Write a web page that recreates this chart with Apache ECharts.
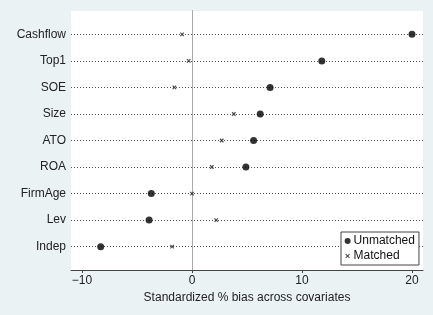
<!DOCTYPE html>
<html>
<head>
    <meta charset="UTF-8">
    <title>Standardized bias</title>
    <script src="https://cdn.jsdelivr.net/npm/echarts@6/dist/echarts.min.js"></script>
    <style>
        html, body { margin: 0; padding: 0; background: #eaf2f3; }
        #main { width: 433px; height: 315px; }
    </style>
</head>
<body>
    <div id="main"></div>
    <script>
        // covariates, top to bottom
        var covariates = ['Cashflow', 'Top1', 'SOE', 'Size', 'ATO', 'ROA', 'FirmAge', 'Lev', 'Indep'];
        // % bias before matching
        var unmatched = [20.0, 11.8, 7.1, 6.2, 5.6, 4.9, -3.7, -3.9, -8.3];
        // % bias after matching
        var matched = [-0.9, -0.3, -1.6, 3.8, 2.7, 1.8, 0.0, 2.2, -1.8];
        var xTicks = [-10, 0, 10, 20];

        var font = 'Liberation Sans, Arial, sans-serif';
        var cross = 'path://M0,0L10,10M10,0L0,10';
        // same cross, padded so the legend icon stays small
        var crossIcon = 'path://M0,0L0,0M16,16L16,16M3,3L13,13M13,3L3,13';
        var rows = covariates.map(function (c, i) { return i + 1; });

        var chart = echarts.init(document.getElementById('main'));
        var option = {
            backgroundColor: '#eaf2f3',
            textStyle: { fontFamily: font },
            animation: false,
            grid: {
                left: 71, right: 10, top: 11, bottom: 45,
                show: true, backgroundColor: '#fff', borderWidth: 0
            },
            legend: {
                left: 341, top: 232,
                orient: 'vertical',
                backgroundColor: '#fff',
                borderColor: '#444', borderWidth: 1,
                padding: [3, 4, 3, 3],
                itemGap: 3,
                itemWidth: 6, itemHeight: 6,
                textStyle: { fontSize: 12, color: '#111', fontFamily: font, padding: [0, 0, 0, -2] },
                data: [
                    { name: 'Unmatched', icon: 'circle' },
                    { name: 'Matched', icon: crossIcon, itemStyle: { color: '#222', borderColor: '#222', borderWidth: 1.2 } }
                ]
            },
            xAxis: {
                type: 'value',
                min: -11, max: 21,
                name: 'Standardized % bias across covariates',
                nameLocation: 'middle',
                nameGap: 22,
                nameTextStyle: { fontSize: 12, color: '#222', fontFamily: font },
                axisLine: { show: true, lineStyle: { color: '#444', width: 1 } },
                axisTick: { show: true, length: 3, customValues: xTicks, lineStyle: { color: '#444' } },
                axisLabel: {
                    fontSize: 12, color: '#222', margin: 5,
                    customValues: xTicks,
                    formatter: function (v) { return v < 0 ? '\u2212' + Math.abs(v) : String(v); }
                },
                splitLine: { show: false }
            },
            yAxis: {
                type: 'value',
                inverse: true,
                min: 0.12, max: 9.88,
                axisLine: { show: true, lineStyle: { color: '#444', width: 1 } },
                axisTick: { show: false },
                axisLabel: {
                    fontSize: 12, color: '#222', margin: 5,
                    customValues: rows,
                    formatter: function (v) { return covariates[Math.round(v) - 1] || ''; }
                },
                splitLine: { show: false }
            },
            series: [
                {
                    name: 'Unmatched',
                    type: 'scatter',
                    symbol: 'circle',
                    symbolSize: 7,
                    itemStyle: { color: '#000' },
                    z: 5,
                    data: unmatched.map(function (v, i) { return [v, i + 1]; }),
                    markLine: {
                        silent: true,
                        symbol: 'none',
                        label: { show: false },
                        z: 1,
                        data: rows.map(function (r) {
                            return { yAxis: r, lineStyle: { color: '#555', width: 1, type: [1, 2] } };
                        }).concat([{ xAxis: 0, lineStyle: { color: '#aaa', width: 1, type: 'solid' } }])
                    }
                },
                {
                    name: 'Matched',
                    type: 'scatter',
                    symbol: cross,
                    symbolSize: 3.5,
                    itemStyle: { color: '#222', borderColor: '#222', borderWidth: 1.2 },
                    z: 6,
                    data: matched.map(function (v, i) { return [v, i + 1]; })
                }
            ]
        };
        chart.setOption(option);
    </script>
</body>
</html>
